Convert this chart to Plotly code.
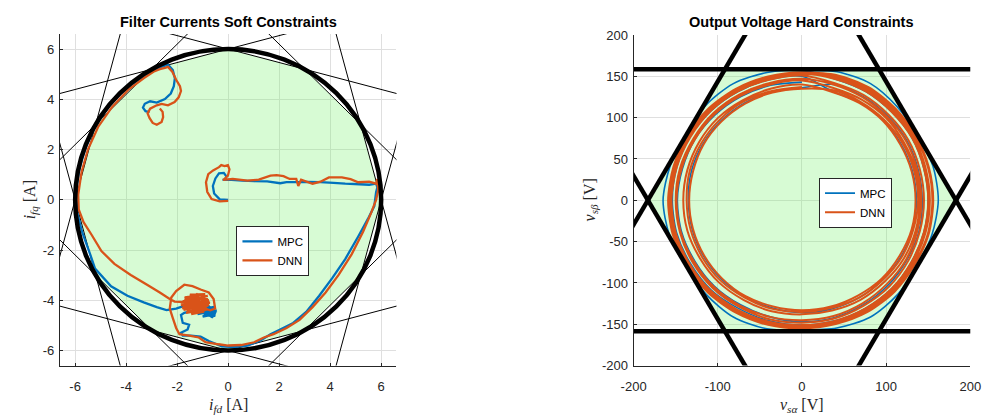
import numpy as np
import plotly.graph_objects as go

# ---------------- data ----------------
# axis ticks
IF_TICKS = [-6, -4, -2, 0, 2, 4, 6]
IF_TICK_TEXT = ["-6", "-4", "-2", "0", "2", "4", "6"]
VA_TICKS = [-200, -100, 0, 100, 200]
VA_TICK_TEXT = ["-200", "-100", "0", "100", "200"]
VB_TICKS = [-200, -150, -100, -50, 0, 50, 100, 150, 200]
VB_TICK_TEXT = ["-200", "-150", "-100", "-50", "0", "50", "100", "150", "200"]

# constraint geometry
I_MAX = 6.0      # filter current limit [A]
N_SIDES = 12     # sides of the polygon that linearises the current limit
V_HEX = 183.0    # vertex radius of the voltage hexagon [V]

# filter current trajectories (d, q) [A], stored piece by piece in time order
# MPC
mpc_start_d = [0.0, -0.33, -0.55, -0.6, -0.5, -0.36, -0.17, -0.07, -0.13, -0.22,
               0.13, 0.56, 1.02, 1.53, 2.04, 2.29, 2.67, 3.11, 3.62, 4.13, 4.59, 5.15, 5.53, 5.8, 5.85]
mpc_start_q = [0.0, 0.02, 0.25, 0.55, 0.85, 1.05, 1.07, 0.93, 0.8, 0.79,
               0.79, 0.76, 0.74, 0.73, 0.66, 0.70, 0.70, 0.71, 0.70, 0.67, 0.64, 0.62, 0.60, 0.64, 0.5]
mpc_lower_d = [5.8, 5.73, 5.48, 5.10, 4.59, 4.08, 3.57, 3.06, 2.55, 2.04, 1.66, 1.27, 0.76, 0.25,
               -0.25, -0.76, -1.08, -1.46, -1.78, -1.85, -1.59, -1.53, -1.78, -1.85, -1.72]
mpc_lower_q = [0.3, -0.25, -0.76, -1.46, -2.36, -3.12, -3.82, -4.46, -4.90, -5.16, -5.35, -5.60, -5.80, -5.86,
               -5.83, -5.62, -5.45, -5.41, -5.41, -5.29, -5.16, -4.97, -4.9, -4.59, -4.5]
mpc_knot_d = [-1.3, -0.5, -1.2, -0.45, -1.0, -0.5, -1.25, -0.6, -0.8, -0.48, -1.1, -0.7, -1.35,
              -0.55, -0.95, -0.5, -1.15, -0.65]
mpc_knot_q = [-4.4, -4.25, -4.55, -4.4, -4.65, -4.55, -4.3, -4.68, -4.2, -4.5, -4.45, -4.6, -4.35,
              -4.3, -4.55, -4.62, -4.4, -4.5]
mpc_upper_d = [-1.66, -2.04, -2.42, -2.80, -3.31, -3.95, -4.59, -5.22, -5.41, -5.73, -5.92,
               -5.97, -5.84, -5.6, -5.2, -4.65, -3.98, -3.2, -2.6, -2.36,
               -2.17, -2.09, -2.13, -2.25, -2.48, -2.8, -3.06, -3.27, -3.34, -3.24, -3.08]
mpc_upper_q = [-4.20, -4.33, -4.39, -4.27, -4.08, -3.82, -3.44, -2.74, -2.17, -1.27, -0.51,
               0.3, 1.2, 2.05, 2.95, 3.78, 4.45, 5.0, 5.3, 5.38,
               5.16, 4.84, 4.52, 4.23, 4.01, 3.87, 3.92, 3.82, 3.67, 3.53, 3.49]
# DNN
dnn_start_d = [0.0, -0.33, -0.65, -0.82, -0.87, -0.78, -0.59, -0.36, -0.27, -0.14, -0.01, 0.05, -0.01, -0.14, -0.2,
               0.18, 0.76, 1.2, 1.66, 1.9, 2.17, 2.41, 2.67, 2.75, 2.86, 3.31, 3.62, 3.95, 4.46, 4.8, 5.1,
               5.53, 5.8, 5.85, 5.88]
dnn_start_q = [-0.04, -0.06, 0.03, 0.32, 0.70, 1.02, 1.17, 1.30, 1.38, 1.34, 1.38, 1.21, 0.96, 0.83, 0.79,
               0.83, 0.76, 0.80, 0.96, 0.98, 0.94, 0.83, 0.83, 0.55, 0.80, 0.64, 0.72, 0.89, 0.89, 0.82, 0.70,
               0.72, 0.64, 0.83, 0.38]
dnn_lower_d = [5.8, 5.61, 5.29, 4.84, 4.33, 3.82, 3.31, 2.80, 2.29, 1.78, 1.40, 1.02, 0.51, 0.0,
               -0.38, -0.89, -1.15, -1.53, -1.91, -2.04, -2.17, -2.29, -2.23, -2.04, -1.72, -1.40,
               -1.08, -0.76, -0.57, -0.51, -0.7]
dnn_lower_q = [0.0, -0.51, -1.27, -2.17, -2.99, -3.69, -4.27, -4.78, -5.10, -5.35, -5.48, -5.67, -5.78, -5.80,
               -5.75, -5.67, -5.48, -5.41, -5.35, -5.10, -4.71, -4.33, -3.89, -3.63, -3.38, -3.44,
               -3.57, -3.69, -3.95, -4.33, -4.40]
dnn_knot_d = [-1.75, -0.8, -1.85, -0.75, -1.75, -0.75, -1.65, -0.8, -1.45, -0.95, -1.7,
              -0.9, -1.5, -0.72, -1.8, -1.0, -1.6, -0.85, -1.85, -1.2, -1.35,
              -0.8, -1.7, -1.1, -1.55, -0.78, -1.25, -1.75, -1.05]
dnn_knot_q = [-4.05, -3.82, -4.2, -4.0, -4.38, -4.18, -4.5, -4.35, -4.55, -4.45, -3.88,
              -3.76, -3.78, -4.1, -4.32, -3.85, -4.45, -4.28, -4.1, -3.74, -4.5,
              -3.95, -3.95, -4.42, -4.02, -4.22, -3.8, -4.25, -4.1]
dnn_upper_d = [-2.1, -2.29, -2.68, -3.18, -3.82, -4.46, -4.97, -5.35, -5.67, -5.86,
               -5.88, -5.75, -5.5, -5.1, -4.55, -3.9, -3.3, -2.93, -2.68, -2.48, -2.36,
               -2.19, -2.04, -1.89, -1.85, -1.94, -2.10, -2.36, -2.61, -2.80, -3.06, -3.16, -3.08,
               -2.96, -2.80, -2.61, -2.55, -2.57, -2.68]
dnn_upper_q = [-4.05, -3.95, -3.69, -3.38, -2.99, -2.55, -2.04, -1.40, -0.89, -0.38,
               0.2, 1.1, 2.0, 2.9, 3.7, 4.4, 4.85, 5.10, 5.20, 5.25, 5.29,
               5.10, 4.78, 4.52, 4.33, 4.08, 3.89, 3.76, 3.82, 3.76, 3.63, 3.44, 3.25,
               3.06, 2.99, 3.10, 3.29, 3.50, 3.63]

# output voltage trajectories: radius [V] of each revolution at these angles
RING_ANGLES_DEG = [0, 15, 30, 45, 60, 75, 90, 105, 120, 135, 150, 165,
                   180, 195, 210, 225, 240, 255, 270, 285, 300, 315, 330, 345]
mpc_vs_radius = [
    [143, 143, 144, 144, 145, 145, 143, 144, 145, 146, 147, 147,
     148, 148, 147, 147, 146, 146, 147, 147, 146, 145, 144, 144],
    [136, 136, 136, 137, 137, 137, 136, 136, 136, 136, 136, 136,
     135, 135, 135, 135, 135, 135, 136, 136, 136, 136, 136, 136],
    [150, 150, 151, 151, 152, 152, 150, 151, 152, 153, 154, 154,
     154, 154, 153, 153, 151, 151, 151, 151, 151, 151, 150, 150],
    [162, 161, 158, 160, 163, 161, 157, 160, 163, 162, 159, 162,
     165, 163, 159, 161, 163, 161, 157, 160, 163, 161, 158, 160],
]
dnn_vs_radius = [
    [138, 138, 138, 138, 138, 138, 137, 137, 138, 138, 138, 138,
     137, 137, 137, 137, 136, 136, 135, 135, 136, 136, 137, 137],
    [135, 135, 135, 136, 136, 136, 135, 135, 135, 135, 135, 134,
     134, 134, 134, 134, 134, 133, 133, 133, 133, 134, 134, 135],
    [140, 140, 140, 141, 141, 141, 140, 140, 140, 141, 141, 141,
     141, 141, 140, 140, 139, 139, 138, 138, 139, 139, 140, 140],
    [142, 142, 143, 143, 144, 145, 145, 145, 146, 147, 147, 148,
     149, 149, 148, 148, 147, 146, 145, 145, 144, 143, 143, 142],
    [145, 145, 146, 146, 147, 147, 147, 147, 148, 149, 149, 150,
     150, 150, 150, 150, 149, 149, 148, 148, 147, 147, 146, 145],
    [150, 150, 151, 151, 152, 152, 151, 151, 152, 153, 153, 154,
     155, 155, 154, 154, 153, 152, 151, 151, 151, 151, 150, 150],
    [152, 152, 153, 153, 154, 154, 153, 153, 154, 155, 155, 156,
     157, 157, 156, 156, 155, 154, 153, 153, 153, 153, 152, 152],
    [155, 155, 155, 155, 156, 156, 154, 154, 155, 156, 156, 157,
     158, 158, 157, 157, 156, 155, 154, 154, 155, 155, 154, 155],
    [156, 156, 156, 157, 158, 157, 155, 155, 156, 157, 157, 158,
     159, 159, 158, 158, 157, 156, 155, 155, 156, 156, 155, 156],
]

# ---------------- styling ----------------
C_MPC = "#0072BD"
C_DNN = "#D95319"
GREEN = "rgba(110,240,100,0.28)"
AX_COL = "#262626"
GRID_COL = "#dfdfdf"
SANS = "Liberation Sans, Arial, sans-serif"
SERIF = "Liberation Serif, Times New Roman, serif"

W, H = 992, 417

fig = go.Figure()

# ---------- left: filter currents ----------
ang = np.deg2rad(np.arange(N_SIDES) * 360.0 / N_SIDES)
vx, vy = I_MAX * np.cos(ang), I_MAX * np.sin(ang)
fig.add_trace(go.Scatter(x=np.append(vx, vx[0]), y=np.append(vy, vy[0]), fill="toself",
                         fillcolor=GREEN, line=dict(width=0), mode="lines",
                         hoverinfo="skip", showlegend=False, xaxis="x", yaxis="y"))
# polygon sides extended as straight constraint lines
lx, ly = [], []
for k in range(N_SIDES):
    x0, y0 = vx[k], vy[k]
    x1, y1 = vx[(k + 1) % N_SIDES], vy[(k + 1) % N_SIDES]
    dx, dy = x1 - x0, y1 - y0
    lx += [x0 - 5 * dx, x1 + 5 * dx, None]
    ly += [y0 - 5 * dy, y1 + 5 * dy, None]
fig.add_trace(go.Scatter(x=lx, y=ly, mode="lines", line=dict(color="black", width=1),
                         hoverinfo="skip", showlegend=False, xaxis="x", yaxis="y"))

mpc_ifd = mpc_start_d + mpc_lower_d + mpc_knot_d + mpc_upper_d
mpc_ifq = mpc_start_q + mpc_lower_q + mpc_knot_q + mpc_upper_q
dnn_ifd = dnn_start_d + dnn_lower_d + dnn_knot_d + dnn_upper_d
dnn_ifq = dnn_start_q + dnn_lower_q + dnn_knot_q + dnn_upper_q

fig.add_trace(go.Scatter(x=mpc_ifd, y=mpc_ifq, mode="lines", name="MPC",
                         line=dict(color=C_MPC, width=2.3, simplify=False), legend="legend",
                         xaxis="x", yaxis="y"))
fig.add_trace(go.Scatter(x=dnn_ifd, y=dnn_ifq, mode="lines", name="DNN",
                         line=dict(color=C_DNN, width=2.3, simplify=False), legend="legend",
                         xaxis="x", yaxis="y"))

# current limit circle
fig.add_shape(type="circle", xref="x", yref="y", x0=-I_MAX, y0=-I_MAX, x1=I_MAX, y1=I_MAX,
              line=dict(color="black", width=4.5))

# ---------- right: output voltage ----------
hang = np.deg2rad(np.arange(6) * 60.0)
hx, hy = V_HEX * np.cos(hang), V_HEX * np.sin(hang)
fig.add_trace(go.Scatter(x=np.append(hx, hx[0]), y=np.append(hy, hy[0]), fill="toself",
                         fillcolor=GREEN, line=dict(width=0), mode="lines",
                         hoverinfo="skip", showlegend=False, xaxis="x2", yaxis="y2"))


def ring_path(radius_sets, start=6):
    """Polar samples of consecutive revolutions -> one continuous (x, y) path,
    each revolution beginning at RING_ANGLES_DEG[start]."""
    th = np.roll(np.deg2rad(RING_ANGLES_DEG), -start)
    xs, ys = [], []
    for r in radius_sets:
        r = np.roll(np.asarray(r, dtype=float), -start)
        xs += list(r * np.cos(th))
        ys += list(r * np.sin(th))
    r_end = float(radius_sets[-1][start])
    xs.append(r_end * np.cos(th[0]))
    ys.append(r_end * np.sin(th[0]))
    return xs, ys


mx, my = ring_path(mpc_vs_radius)
nx, ny = ring_path(dnn_vs_radius)
fig.add_trace(go.Scatter(x=mx, y=my, mode="lines", name="MPC",
                         line=dict(color=C_MPC, width=1.6, shape="spline", smoothing=0.8,
                                   simplify=False),
                         legend="legend2", xaxis="x2", yaxis="y2"))
fig.add_trace(go.Scatter(x=nx, y=ny, mode="lines", name="DNN",
                         line=dict(color=C_DNN, width=2.0, shape="spline", smoothing=0.8,
                                   simplify=False),
                         legend="legend2", xaxis="x2", yaxis="y2"))

# hexagon sides extended
hlx, hly = [], []
for k in range(6):
    x0, y0 = hx[k], hy[k]
    x1, y1 = hx[(k + 1) % 6], hy[(k + 1) % 6]
    ddx, ddy = x1 - x0, y1 - y0
    hlx += [x0 - 3 * ddx, x1 + 3 * ddx, None]
    hly += [y0 - 3 * ddy, y1 + 3 * ddy, None]
fig.add_trace(go.Scatter(x=hlx, y=hly, mode="lines", line=dict(color="black", width=4.5),
                         hoverinfo="skip", showlegend=False, xaxis="x2", yaxis="y2"))

# ---------- axes ----------
common = dict(showline=True, linecolor=AX_COL, linewidth=1, mirror=False,
              showgrid=True, gridcolor=GRID_COL, gridwidth=1, zeroline=False,
              ticks="inside", ticklen=3, tickcolor=AX_COL,
              tickfont=dict(family=SANS, size=13, color=AX_COL), tickmode="array")

fig.update_layout(
    width=W, height=H, margin=dict(l=0, r=0, t=0, b=0),
    paper_bgcolor="white", plot_bgcolor="white",
    xaxis=dict(domain=[48 / W, 393 / W], range=[-6.6, 6.6], tickvals=IF_TICKS,
               ticktext=IF_TICK_TEXT, anchor="y", ticklabelstandoff=9, **common),
    yaxis=dict(domain=[1 - 372 / H, 1 - 28 / H], range=[-6.6, 6.6], tickvals=IF_TICKS,
               ticktext=IF_TICK_TEXT, anchor="x", ticklabelstandoff=2, **common),
    xaxis2=dict(domain=[636 / W, 981 / W], range=[-200, 200], tickvals=VA_TICKS,
                ticktext=VA_TICK_TEXT, anchor="y2", ticklabelstandoff=9, **common),
    yaxis2=dict(domain=[1 - 372 / H, 1 - 29 / H], range=[-200, 200], tickvals=VB_TICKS,
                ticktext=VB_TICK_TEXT, anchor="x2", ticklabelstandoff=2, **common),
    legend=dict(x=229 / W, y=1 - 227 / H, xanchor="left", yanchor="top",
                bgcolor="white", bordercolor=AX_COL, borderwidth=1,
                font=dict(family=SANS, size=11.5, color="black"), tracegroupgap=0),
    legend2=dict(x=826 / W, y=1 - 177 / H, xanchor="left", yanchor="top",
                 bgcolor="white", bordercolor=AX_COL, borderwidth=1,
                 font=dict(family=SANS, size=11.5, color="black"), tracegroupgap=0),
)

ann = [
    dict(text="<b>Filter Currents Soft Constraints</b>", x=220.5 / W, y=1 - 16 / H,
         font=dict(family=SANS, size=14.5, color="black")),
    dict(text="<b>Output Voltage Hard Constraints</b>", x=808.5 / W, y=1 - 16 / H,
         font=dict(family=SANS, size=14.5, color="black")),
    dict(text="<i>i</i><sub><i>fd</i></sub> [A]", x=220.5 / W, y=1 - 413 / H,
         font=dict(family=SERIF, size=16, color=AX_COL)),
    dict(text="<i>i</i><sub><i>fq</i></sub> [A]", x=18 / W, y=1 - 200 / H, textangle=-90,
         font=dict(family=SERIF, size=16, color=AX_COL)),
    dict(text="<i>v</i><sub><i>sα</i></sub> [V]", x=808.5 / W, y=1 - 413 / H,
         font=dict(family=SERIF, size=16, color=AX_COL)),
    dict(text="<i>v</i><sub><i>sβ</i></sub> [V]", x=592 / W, y=1 - 200 / H, textangle=-90,
         font=dict(family=SERIF, size=16, color=AX_COL)),
]
for a in ann:
    fig.add_annotation(xref="paper", yref="paper", showarrow=False,
                       xanchor="center", yanchor="middle", **a)

fig.write_html("out.html")
